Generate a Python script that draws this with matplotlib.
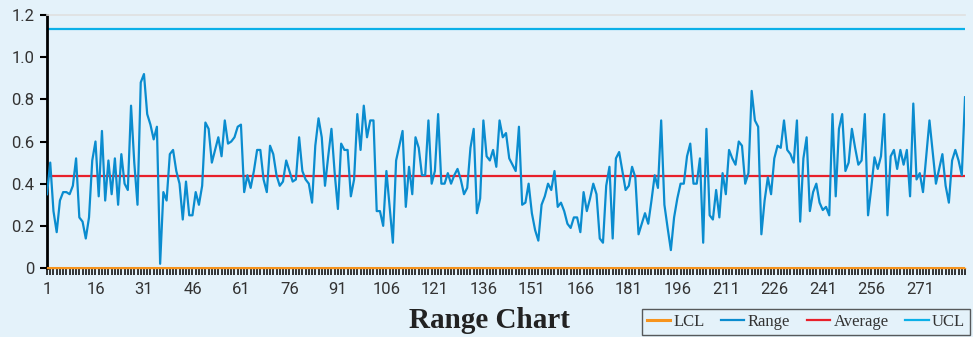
import matplotlib
matplotlib.use("Agg")
import matplotlib.pyplot as plt
import numpy as np

# ---- data ----
range_seg1 = [0.35,0.50,0.27,0.17,0.32,0.36,0.36,0.35,0.39,0.52,0.24,0.22,0.14,0.24,0.51,
              0.60,0.34,0.65,0.32,0.51,0.35,0.52,0.30,0.54,0.40,0.37,0.77,0.50,0.30,0.88,0.92]
range_seg2 = [0.73,0.68,0.61,0.67,0.02,0.36,0.32,0.54,0.56,0.46,0.40,0.23,0.41,0.25,0.25,
              0.36,0.30,0.39,0.69,0.66,0.50,0.56,0.62,0.53,0.70,0.59,0.60,0.62,0.67,0.68,
              0.36,0.44,0.38,0.46]
range_seg3 = [0.56,0.56,0.42,0.36,0.58,0.54,0.44,0.39,0.41,0.51,0.46,0.41,0.42,0.62,0.46,
              0.42,0.40,0.31,0.58,0.71,0.62,0.39,0.53,0.66,0.45,0.28,0.59,0.56,0.56,0.34,
              0.42,0.73,0.56]
range_seg4 = [0.77,0.62,0.70,0.70,0.27,0.27,0.20,0.46,0.29,0.12,0.51,0.58,0.65,0.29,0.48,
              0.35,0.62,0.57,0.44,0.44,0.70,0.40,0.46,0.73,0.40,0.40,0.45,0.40,0.44,0.47,
              0.42,0.35]
range_seg5 = [0.38,0.57,0.66,0.26,0.33,0.70,0.53,0.51,0.56,0.48,0.70,0.62,0.64,0.52,0.49,
              0.46,0.67,0.30,0.31,0.40,0.26,0.18,0.13,0.30,0.34,0.40,0.37,0.46,0.29,0.31,
              0.27,0.21]
range_seg6 = [0.19,0.24,0.24,0.17,0.36,0.27,0.33,0.40,0.35,0.14,0.12,0.39,0.48,0.14,0.52,
              0.55,0.46,0.37,0.39,0.48,0.43,0.16,0.21,0.26,0.21,0.32,0.44,0.38,0.70,0.30,
              0.19,0.085,0.24]
range_seg7 = [0.33,0.40,0.40,0.53,0.59,0.40,0.40,0.52,0.12,0.66,0.25,0.23,0.37,0.24,0.45,
              0.35,0.56,0.52,0.49,0.60,0.58,0.40,0.45,0.84,0.70,0.67,0.16,0.32,0.43,0.35,
              0.52,0.58,0.57]
range_seg8 = [0.70,0.56,0.54,0.50,0.70,0.22,0.52,0.62,0.27,0.36,0.40,0.31,0.275,0.29,0.25,
              0.73,0.34,0.66,0.73,0.46,0.50,0.66,0.57,0.49,0.51,0.73,0.25,0.38,0.525,0.47,
              0.53,0.73]
range_seg9 = [0.25,0.53,0.56,0.47,0.56,0.49,0.56,0.34,0.78,0.42,0.45,0.36,0.53,0.70,0.55,
              0.40,0.47,0.54,0.39,0.31,0.51,0.56,0.51,0.44,0.81]

range_values = (range_seg1 + range_seg2 + range_seg3 + range_seg4 + range_seg5 +
                range_seg6 + range_seg7 + range_seg8 + range_seg9)
average_value = 0.436
ucl_value = 1.134
lcl_value = 0.0
y_ticks = [0, 0.2, 0.4, 0.6, 0.8, 1.0, 1.2]
y_tick_labels = ["0", "0.2", "0.4", "0.6", "0.8", "1.0", "1.2"]
x_tick_step = 15
title_text = "Range Chart"
legend_labels = ["LCL", "Range", "Average", "UCL"]

# ---- styling ----
BG = "#E4F2FA"
C_LCL = "#F7941D"
C_RANGE = "#0A8CCF"
C_AVG = "#E8202A"
C_UCL = "#0BB0E8"

n = len(range_values)
x = np.arange(1, n + 1)

fig = plt.figure(figsize=(9.73, 3.37), dpi=100, facecolor=BG)
ax = fig.add_axes([0.0483, 0.2047, 0.9435, 0.7508], facecolor=BG)

l_lcl, = ax.plot(x, [lcl_value] * n, color=C_LCL, lw=2.2, zorder=4)
l_rng, = ax.plot(x, range_values, color=C_RANGE, lw=1.6, zorder=3)
l_avg, = ax.plot(x, [average_value] * n, color=C_AVG, lw=1.6, zorder=2)
l_ucl, = ax.plot(x, [ucl_value] * n, color=C_UCL, lw=1.6, zorder=2)

ax.set_xlim(1, n)
ax.set_ylim(0, 1.2)
ax.set_yticks(y_ticks)
ax.set_yticklabels(y_tick_labels, fontfamily="Roboto", fontsize=12, color="#333333")
major = list(range(1, n + 1, x_tick_step))
ax.set_xticks(major)
ax.set_xticklabels([str(v) for v in major], fontfamily="Roboto", fontsize=12, color="#333333")
ax.set_xticks(x, minor=True)
ax.tick_params(axis="x", which="both", length=5, width=1.1, color="black", pad=5)
ax.tick_params(axis="y", which="major", length=5, width=1.5, color="black", pad=4)

ax.spines["right"].set_visible(False)
ax.spines["top"].set_color("#E0E0E0")
ax.spines["top"].set_linewidth(1.2)
ax.spines["left"].set_color("black")
ax.spines["left"].set_linewidth(2.0)
ax.spines["bottom"].set_color(C_LCL)
ax.spines["bottom"].set_linewidth(1.0)

fig.text(0.503, 0.048, title_text, ha="center", va="center",
         fontfamily="Liberation Serif", fontweight="bold", fontsize=21, color="#222222")

leg = fig.legend([l_lcl, l_rng, l_avg, l_ucl], legend_labels, loc="lower right",
                 bbox_to_anchor=(0.997, 0.006), borderaxespad=0.0, ncol=4, frameon=True,
                 fancybox=False, prop={"family": "Liberation Serif", "size": 12},
                 handlelength=1.4, handletextpad=0.2, columnspacing=1.0, borderpad=0.3)
leg.get_frame().set_edgecolor("#333333")
leg.get_frame().set_facecolor(BG)
leg.get_frame().set_linewidth(1.0)
for t in leg.get_texts():
    t.set_color("#333333")

fig.savefig("out.png", dpi=100, facecolor=BG)
